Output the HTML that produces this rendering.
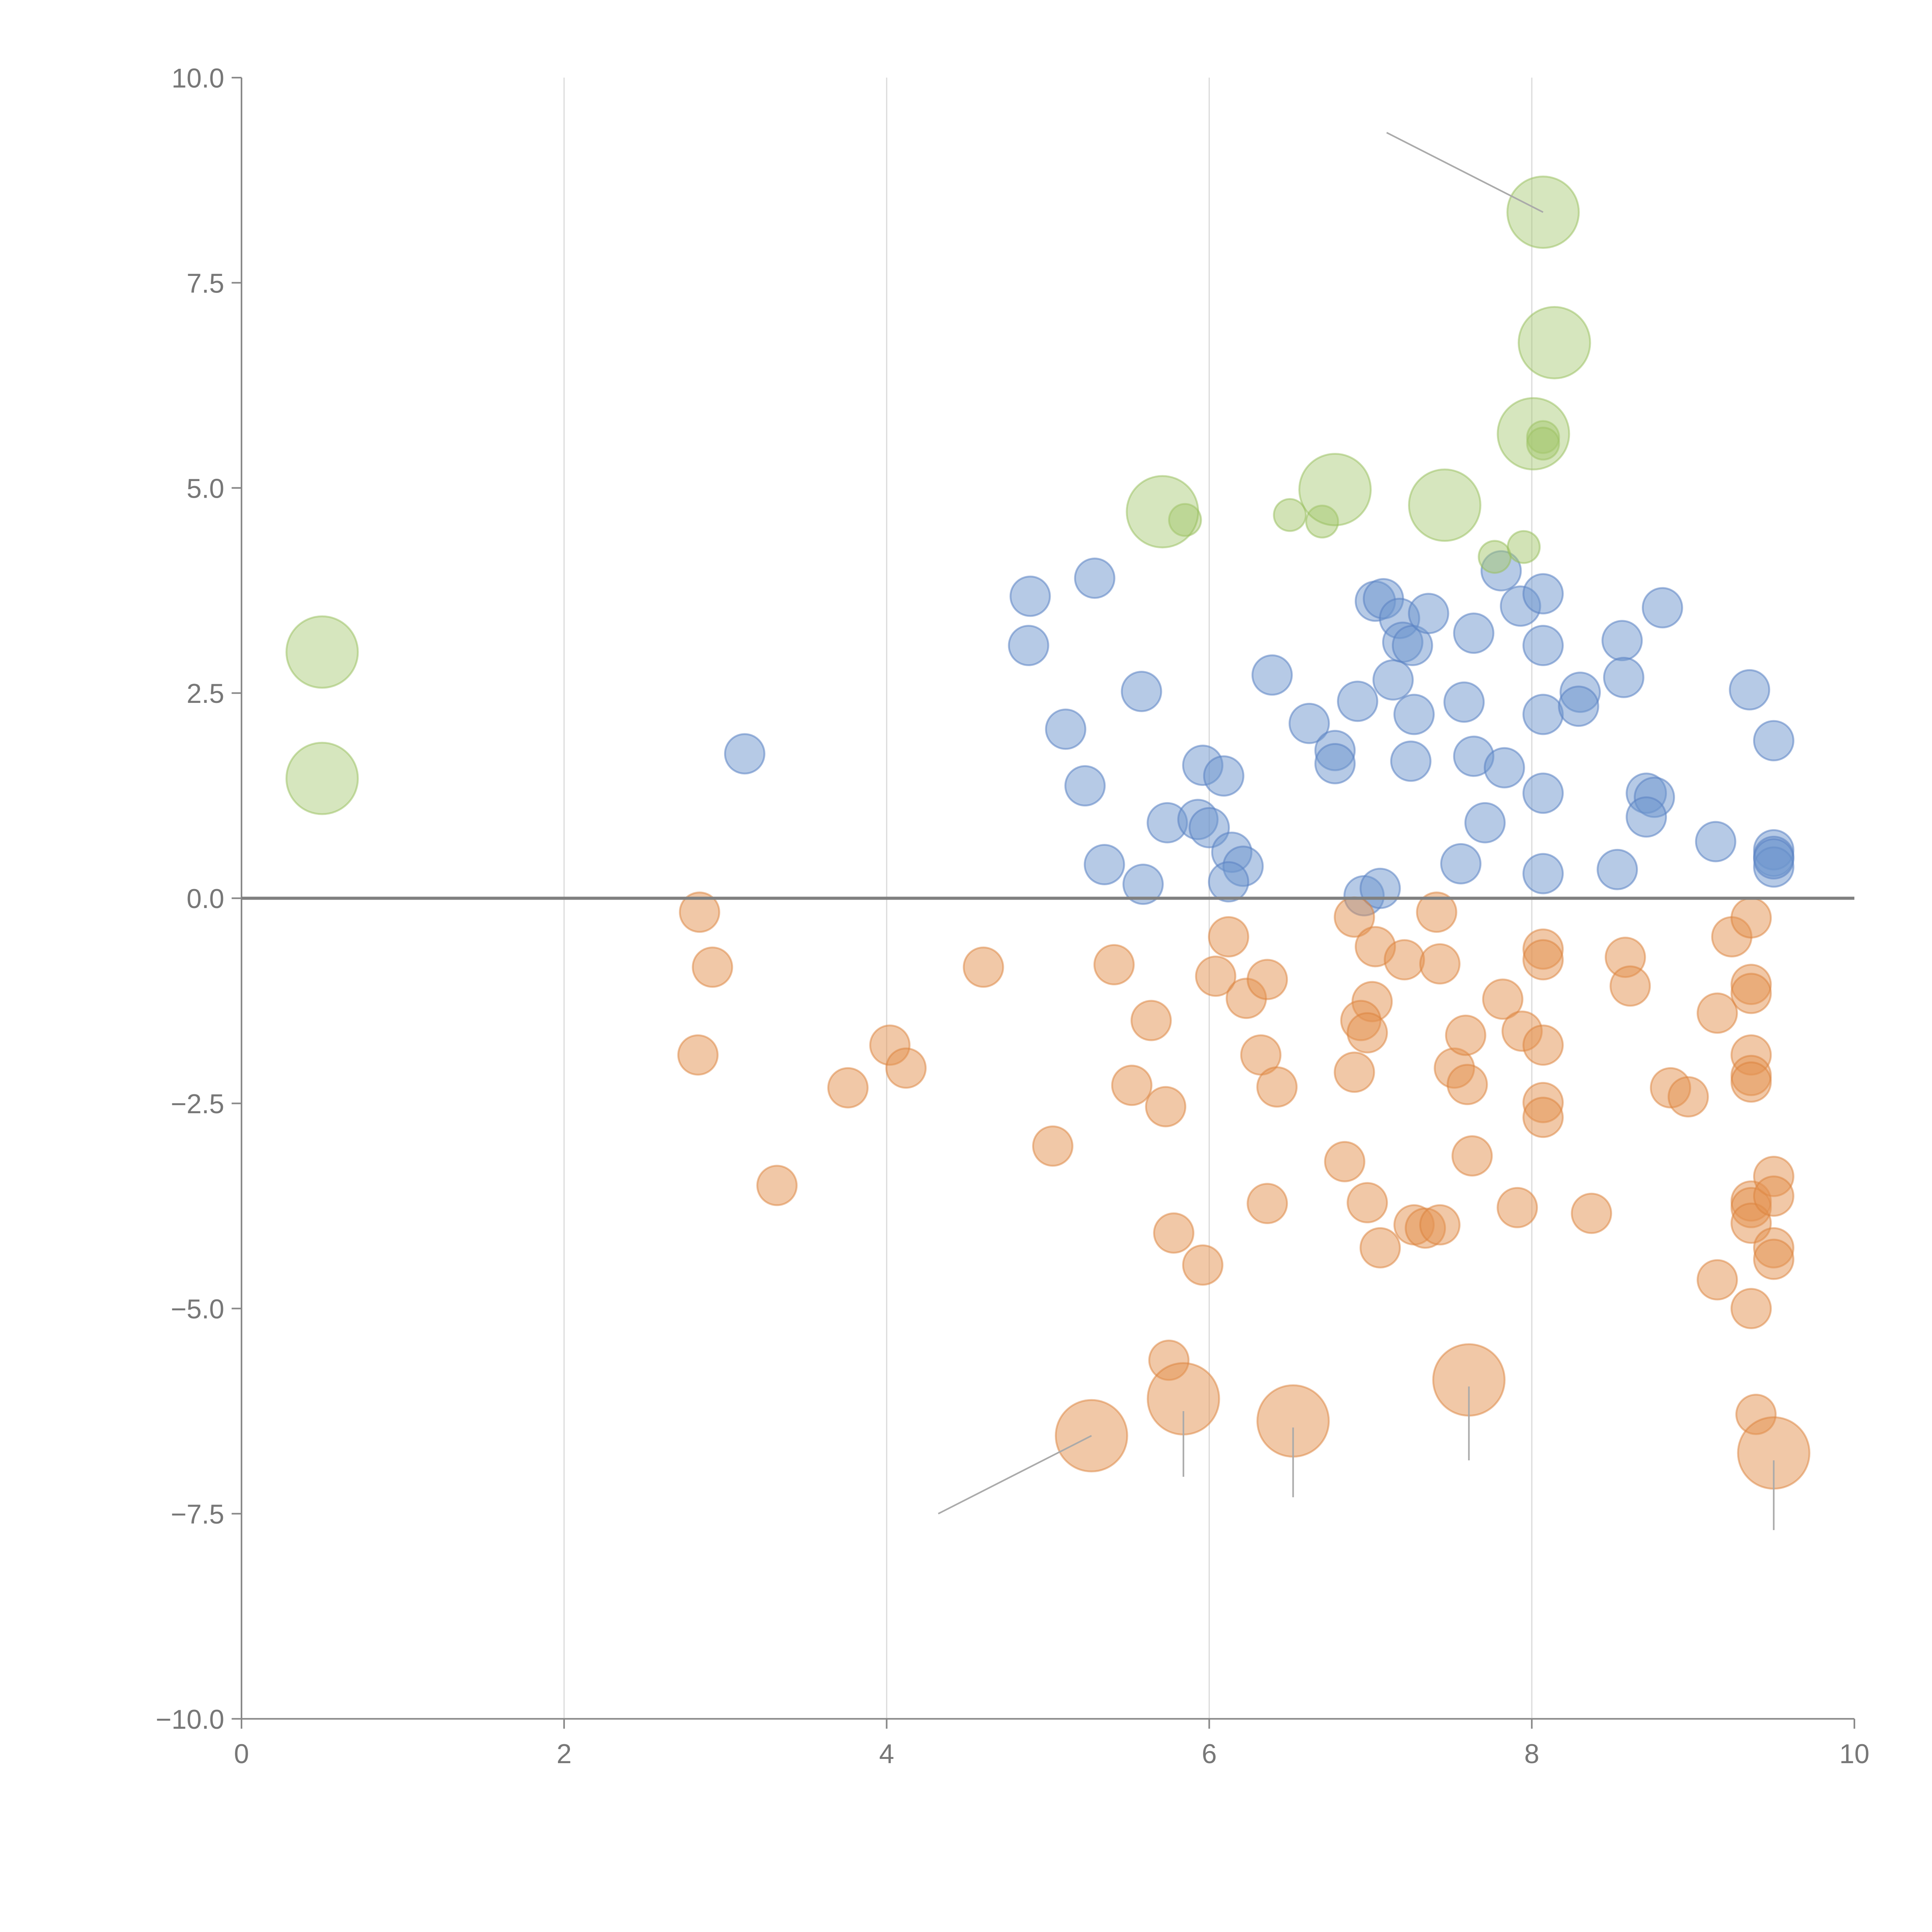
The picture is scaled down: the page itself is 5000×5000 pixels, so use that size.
<!DOCTYPE html>
<html><head><meta charset="utf-8"><style>
html,body{margin:0;padding:0;background:#fff}
svg{display:block}
text{font-family:"Liberation Sans",Arial,sans-serif;fill:#777}
</style></head><body>
<svg id="chart" width="5000" height="5000" viewBox="0 0 1568 1568" xmlns="http://www.w3.org/2000/svg">
<g id="grid"></g>
<g id="marks"></g>
<g id="axes"></g>
</svg>
<script>
const xTicks=[0,2,4,6,8,10];
const yTicks=[-10,-7.5,-5,-2.5,0,2.5,5,7.5,10];
const blueX=[3.12,4.89,4.88,5.29,5.11,5.58,5.23,5.35,5.59,5.74,5.96,5.93,6.00,6.09,6.14,6.21,6.12,6.39,6.62,6.78,6.78,6.92,6.96,7.06,7.03,7.08,7.18,7.20,7.26,7.14,7.27,7.25,7.36,7.58,7.64,7.64,7.56,7.71,7.81,7.83,7.93,8.07,8.07,8.07,8.07,8.07,8.30,8.29,8.56,8.57,8.53,8.71,8.76,8.71,8.81,9.14,9.35,9.50,9.50,9.50,9.50,9.50];
const blueY=[1.76,3.68,3.08,3.90,2.06,2.52,1.37,0.41,0.17,0.92,1.62,0.96,0.86,1.49,0.56,0.39,0.20,2.72,2.13,1.80,1.64,2.40,0.03,0.12,3.62,3.65,3.41,3.12,3.08,2.66,2.24,1.67,3.47,2.39,3.23,1.73,0.42,0.92,3.99,1.59,3.56,3.71,3.08,2.24,1.28,0.30,2.51,2.34,3.14,2.69,0.35,1.28,1.23,0.99,3.54,0.69,2.54,1.92,0.59,0.51,0.38,0.48];
const orangeX=[2.84,2.92,2.83,3.32,3.76,4.02,4.12,4.60,5.03,5.41,5.52,5.64,5.73,5.75,5.78,5.96,6.04,6.12,6.23,6.32,6.36,6.42,6.36,6.84,6.90,7.03,7.01,6.94,6.98,6.90,6.98,7.06,7.21,7.41,7.43,7.27,7.34,7.43,7.52,7.59,7.60,7.63,7.82,7.94,7.91,8.07,8.07,8.07,8.07,8.07,8.37,8.58,8.61,8.86,8.97,9.15,9.15,9.24,9.36,9.36,9.36,9.36,9.36,9.36,9.36,9.36,9.36,9.36,9.39,9.50,9.50,9.50,9.50];
const orangeY=[-0.17,-0.84,-1.91,-3.50,-2.31,-1.79,-2.07,-0.84,-3.02,-0.81,-2.28,-1.49,-2.54,-5.63,-4.08,-4.47,-0.95,-0.47,-1.22,-1.91,-0.99,-2.30,-3.72,-3.21,-0.23,-0.59,-1.26,-1.49,-1.64,-2.12,-3.71,-4.26,-0.75,-0.17,-0.80,-3.98,-4.02,-3.98,-2.07,-1.67,-2.27,-3.14,-1.23,-1.62,-3.77,-0.62,-0.75,-1.79,-2.49,-2.67,-3.84,-0.72,-1.07,-2.31,-2.42,-4.65,-1.40,-0.47,-0.24,-1.05,-1.16,-1.91,-2.16,-2.24,-3.69,-3.77,-3.96,-5.00,-6.29,-3.39,-3.63,-4.26,-4.40];
const bigOrangeX=[5.27,5.84,6.52,7.61,9.50];
const bigOrangeY=[-6.55,-6.10,-6.37,-5.87,-6.76];
const greenX=[5.85,6.50,6.70,7.77,7.95,8.07,8.07];
const greenY=[4.61,4.67,4.59,4.16,4.28,5.62,5.54];
const bigGreenX=[0.50,0.50,5.71,6.78,7.46,8.07,8.14,8.01];
const bigGreenY=[3.00,1.46,4.71,4.98,4.79,8.36,6.77,5.66];

const X0=196,X1=1505,Y0=1395,Y1=63;
const sx=v=>X0+(v-0)/(10-0)*(X1-X0);
const sy=v=>Y0-(v+10)/20*(Y0-Y1);
const NS="http://www.w3.org/2000/svg";
function mk(tag,attrs,parent){const e=document.createElementNS(NS,tag);for(const k in attrs)e.setAttribute(k,attrs[k]);parent.appendChild(e);return e;}
const grid=document.getElementById('grid'),marks=document.getElementById('marks'),axes=document.getElementById('axes');

xTicks.forEach(t=>{if(t>0&&t<10){const l=mk('line',{x1:sx(t),x2:sx(t),y1:Y1,y2:Y0,stroke:'#dcdcdc','stroke-width':1},grid);

}});

function series(xs,ys,r,fill,stroke,name){xs.forEach((x,i)=>{const c=mk('circle',{cx:sx(x),cy:sy(ys[i]),r:r,fill:fill,stroke:stroke,'stroke-width':1.5},marks);

});}
series(blueX,blueY,16,'rgba(110,150,205,0.5)','rgba(90,130,195,0.55)','blue-point');
series(orangeX,orangeY,16,'rgba(228,145,80,0.5)','rgba(220,130,60,0.5)','orange-point');
series(greenX,greenY,13,'rgba(165,200,110,0.5)','rgba(150,190,90,0.5)','green-point');
series(bigOrangeX,bigOrangeY,29,'rgba(228,145,80,0.5)','rgba(220,130,60,0.5)','orange-large-point');
series(bigGreenX,bigGreenY,29,'rgba(165,200,110,0.45)','rgba(150,190,90,0.5)','green-large-point');

const leaderFrom=[[5.27,-6.55],[5.84,-6.25],[6.52,-6.45],[7.61,-5.95],[9.50,-6.85],[8.07,8.36]];
const leaderTo=[[4.32,-7.5],[5.84,-7.05],[6.52,-7.3],[7.61,-6.85],[9.50,-7.7],[7.10,9.33]];
leaderFrom.forEach((p,i)=>{const l=mk('line',{x1:sx(p[0]),y1:sy(p[1]),x2:sx(leaderTo[i][0]),y2:sy(leaderTo[i][1]),stroke:'#aaa','stroke-width':1.3},marks);

});

let a=mk('line',{x1:X0,x2:X0,y1:Y1,y2:Y0,stroke:'#888','stroke-width':1.3},axes);


a=mk('line',{x1:X0,x2:X1,y1:Y0,y2:Y0,stroke:'#888','stroke-width':1.3},axes);


a=mk('line',{x1:X0,x2:X1,y1:sy(0),y2:sy(0),stroke:'#808080','stroke-width':2.5},axes);


xTicks.forEach(t=>{const l=mk('line',{x1:sx(t),x2:sx(t),y1:Y0,y2:Y0+8,stroke:'#888','stroke-width':1.3},axes);


const tx=mk('text',{x:sx(t),y:Y0+36,'text-anchor':'middle','font-size':22},axes);tx.textContent=String(t);

});
yTicks.forEach(t=>{const l=mk('line',{x1:X0-8,x2:X0,y1:sy(t),y2:sy(t),stroke:'#888','stroke-width':1.3},axes);


const tx=mk('text',{x:X0-14,y:sy(t)+8,'text-anchor':'end','font-size':22},axes);tx.textContent=(t<0?'\u2212':'')+Math.abs(t).toFixed(1);

});
</script>
</body></html>
